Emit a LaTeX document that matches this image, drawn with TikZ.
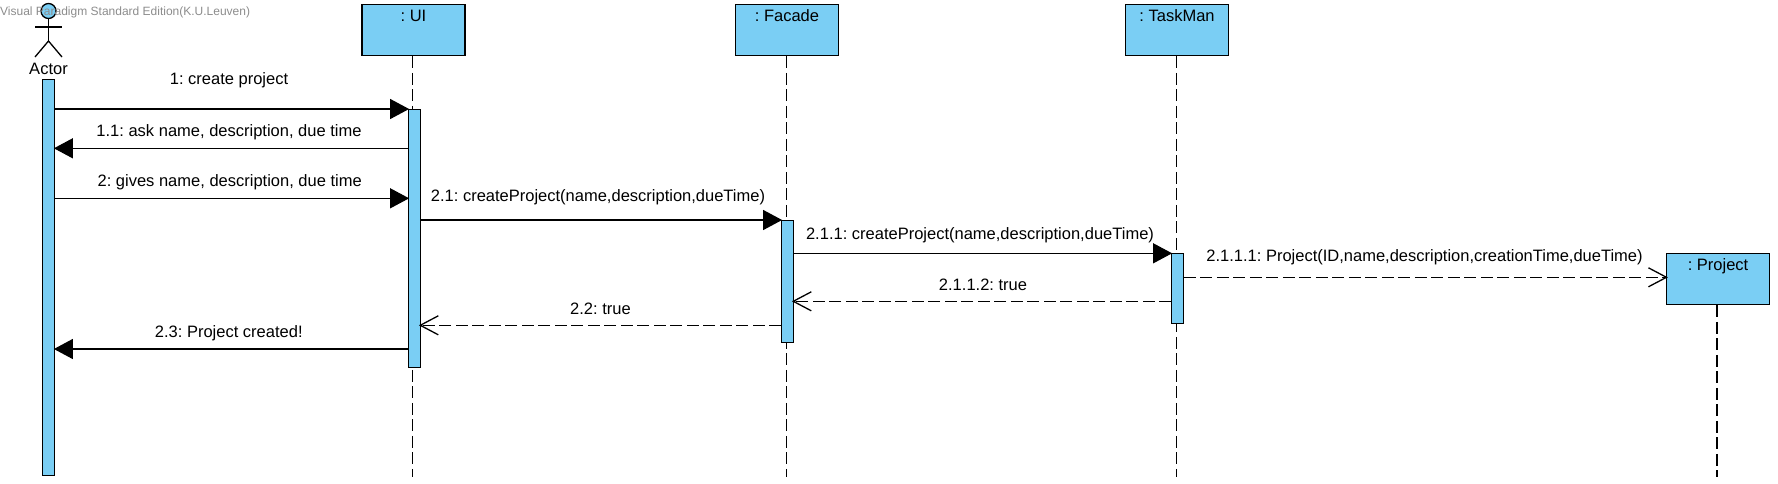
\documentclass[tikz,border=0pt]{standalone}
\usepackage{fontspec}
\setmainfont{Liberation Sans}
\usetikzlibrary{arrows.meta}
\definecolor{lifeblue}{HTML}{7ACEF4}
\frenchspacing
\tikzset{
	objbox/.style = {draw, fill = lifeblue, line width = 1.3pt, inner sep = 0, minimum width = 103pt, text height = 17pt, text depth = 34.5pt, anchor = north, font = \fontsize{16.5}{19}\selectfont},
	barbox/.style = {draw, fill = lifeblue, line width = 1.3pt, inner sep = 0, minimum width = 11.5pt, anchor = north},
	lifeline/.style = {line width = 1.3pt, dash pattern = on 12pt off 4.5pt},
	call/.style = {line width = 1.3pt, shorten > = -1pt, -{Triangle[length = 19pt, width = 20pt]}},
	answer/.style = {line width = 1.3pt, shorten > = -2pt, dash pattern = on 12pt off 4.5pt, -{Straight Barb[length = 18pt, width = 19pt, line width = 1.3pt]}},
	msgtext/.style = {anchor = base, inner sep = 0, font = \fontsize{16.5}{19}\selectfont}
}
\begin{document}
\begin{tikzpicture}[x = 1pt, y = -1pt]
	\useasboundingbox (0, 0) rectangle (1778, 483);

	% objects at the top
	\node[objbox] (ui) at (413.5, 3.5) {: UI};
	\node[objbox] (facade) at (787, 3.5) {: Facade};
	\node[objbox] (taskman) at (1177, 3.5) {: TaskMan};
	\node[objbox] (project) at (1718, 252.5) {: Project};

	% lifelines
	\coordinate (uiend) at (412.5, 477);
	\coordinate (facadeend) at (786.7, 477);
	\coordinate (taskmanend) at (1176.5, 477);
	\coordinate (projectend) at (1717, 477);
	\draw[lifeline] (ui.south -| uiend) -- (uiend);
	\draw[lifeline] (facade.south -| facadeend) -- (facadeend);
	\draw[lifeline] (taskman.south -| taskmanend) -- (taskmanend);
	\draw[lifeline] (project.south -| projectend) -- (projectend);

	% activation bars
	\node[barbox, minimum height = 396pt] (actorbar) at (48.5, 78.5) {};
	\node[barbox, minimum height = 258pt] (uibar) at (414.5, 109) {};
	\node[barbox, minimum height = 122pt] (facadebar) at (787.5, 219.5) {};
	\node[barbox, minimum height = 70pt] (taskmanbar) at (1177.5, 252.5) {};

	% actor
	\node[circle, draw, fill = lifeblue, line width = 1.3pt, inner sep = 0, minimum size = 15pt] (head) at (48.5, 11) {};
	\coordinate (hip) at (48.5, 41);
	\coordinate (arml) at (35, 27);
	\coordinate (armr) at (62, 27);
	\coordinate (footl) at (35, 57);
	\coordinate (footr) at (62, 57);
	\draw[line width = 1.3pt] (head.south) -- (hip);
	\draw[line width = 1.3pt] (arml) -- (armr);
	\draw[line width = 1.3pt] (footl) -- (hip) -- (footr);
	\node[msgtext] (actorname) at (48.5, 74) {Actor};
	\node[anchor = base west, inner sep = 0, text = gray!90, font = \fontsize{12}{14}\selectfont] (mark) at (0, 15) {Visual Paradigm Standard Edition(K.U.Leuven)};

	% messages
	\draw[call] (actorbar.east |- 0, 109) -- (uibar.west |- 0, 109);
	\node[msgtext] (m1) at (229, 84) {1: create project};
	\draw[call] (uibar.west |- 0, 148.3) -- (actorbar.east |- 0, 148.3);
	\node[msgtext] (m2) at (229, 136.7) {1.1: ask name, description, due time};
	\draw[call] (actorbar.east |- 0, 198.3) -- (uibar.west |- 0, 198.3);
	\node[msgtext] (m3) at (229.7, 186) {2: gives name, description, due time};
	\draw[call] (uibar.east |- 0, 220) -- (facadebar.west |- 0, 220);
	\node[msgtext] (m4) at (598, 201) {2.1: createProject(name,description,dueTime)};
	\draw[call] (facadebar.east |- 0, 253.3) -- (taskmanbar.west |- 0, 253.3);
	\node[msgtext] (m5) at (980, 239) {2.1.1: createProject(name,description,dueTime)};
	\draw[answer] (taskmanbar.east |- 0, 277.3) -- (project.west |- 0, 277.3);
	\node[msgtext] (m6) at (1424.5, 261) {2.1.1.1: Project(ID,name,description,creationTime,dueTime)};
	\draw[answer] (taskmanbar.west |- 0, 301.3) -- (facadebar.east |- 0, 301.3);
	\node[msgtext] (m7) at (983, 290) {2.1.1.2: true};
	\draw[answer] (facadebar.west |- 0, 325.3) -- (uibar.east |- 0, 325.3);
	\node[msgtext] (m8) at (600.5, 314) {2.2: true};
	\draw[call] (uibar.west |- 0, 349) -- (actorbar.east |- 0, 349);
	\node[msgtext] (m9) at (228.8, 337.7) {2.3: Project created!};
\end{tikzpicture}
\end{document}
